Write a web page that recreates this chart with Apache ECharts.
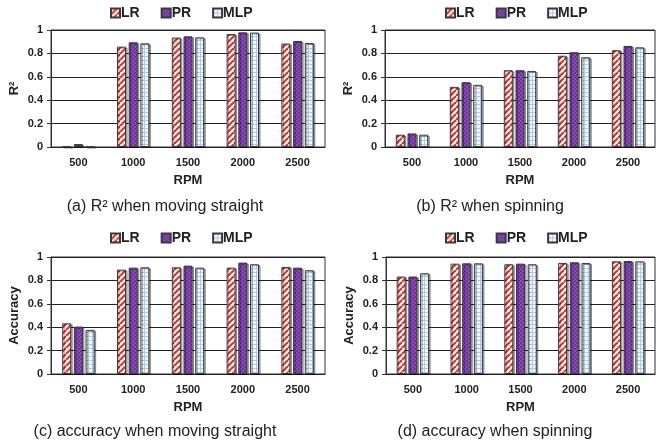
<html lang="en">
<head>
    <meta charset="UTF-8">
    <title>RPM models</title>
    <script src="https://cdn.jsdelivr.net/npm/echarts@6/dist/echarts.min.js"></script>
</head>
<body style="margin:0;background:#fff">
    <div id="main" style="width:657px;height:444px;"></div>
    <script type="text/javascript">
        // RPM categories and the three model names
        var rpm = ['500', '1000', '1500', '2000', '2500'];
        var models = ['LR', 'PR', 'MLP'];

        // (a) R^2 moving straight
        var r2StraightLR = [0.003, 0.858, 0.935, 0.966, 0.884];
        var r2StraightPR = [0.025, 0.895, 0.946, 0.98, 0.906];
        var r2StraightMLP = [0.002, 0.886, 0.937, 0.978, 0.889];
        // (b) R^2 spinning
        var r2SpinLR = [0.105, 0.514, 0.656, 0.78, 0.827];
        var r2SpinPR = [0.116, 0.554, 0.656, 0.81, 0.864];
        var r2SpinMLP = [0.105, 0.531, 0.65, 0.767, 0.852];
        // (c) accuracy moving straight
        var accStraightLR = [0.433, 0.892, 0.912, 0.909, 0.915];
        var accStraightPR = [0.405, 0.909, 0.926, 0.952, 0.909];
        var accStraightMLP = [0.377, 0.912, 0.909, 0.938, 0.887];
        // (d) accuracy spinning
        var accSpinLR = [0.833, 0.943, 0.938, 0.949, 0.963];
        var accSpinPR = [0.833, 0.946, 0.943, 0.955, 0.966];
        var accSpinMLP = [0.861, 0.946, 0.938, 0.949, 0.963];

        var yTicks = [0, 0.2, 0.4, 0.6, 0.8, 1];

        // small canvases used as repeating fills
        function makePattern(w, h, draw) {
            var c = document.createElement('canvas');
            c.width = w; c.height = h;
            draw(c.getContext('2d'));
            return { image: c, repeat: 'repeat' };
        }
        var stripeFill = makePattern(6, 6, function (g) {
            g.fillStyle = '#fff'; g.fillRect(0, 0, 6, 6);
            g.strokeStyle = '#e5332a'; g.lineWidth = 2.2;
            for (var k = -6; k <= 6; k += 6) {
                g.beginPath(); g.moveTo(k, 6); g.lineTo(k + 6, 0); g.stroke();
            }
        });
        var dotFill = makePattern(4, 4, function (g) {
            g.fillStyle = '#7030a0'; g.fillRect(0, 0, 4, 4);
            g.fillStyle = '#c9a6ec';
            g.fillRect(0.5, 0.5, 1, 1); g.fillRect(2.5, 2.5, 1, 1);
        });
        var gridFill = makePattern(4, 4, function (g) {
            g.fillStyle = '#f3f8fe'; g.fillRect(0, 0, 4, 4);
            g.fillStyle = '#a9c9ef';
            g.fillRect(0, 0, 4, 1); g.fillRect(0, 0, 1, 4);
        });
        var fills = [stripeFill, dotFill, gridFill];

        var panels = [
            { left: 51, right: 332, top: 30, yName: 'R\u00b2', caption: '(a) R\u00b2 when moving straight', cx: 165, cy: 207, lx: 105, ly: 1, data: [r2StraightLR, r2StraightPR, r2StraightMLP] },
            { left: 385, right: 2, top: 30, yName: 'R\u00b2', caption: '(b) R\u00b2 when spinning', cx: 490, cy: 207, lx: 440, ly: 1, data: [r2SpinLR, r2SpinPR, r2SpinMLP] },
            { left: 51, right: 332, top: 257, yName: 'Accuracy', caption: '(c) accuracy when moving straight', cx: 155, cy: 432, lx: 105, ly: 226, data: [accStraightLR, accStraightPR, accStraightMLP] },
            { left: 386, right: 2, top: 257, yName: 'Accuracy', caption: '(d) accuracy when spinning', cx: 495, cy: 432, lx: 440, ly: 226, data: [accSpinLR, accSpinPR, accSpinMLP] }
        ];

        var font = 'Liberation Sans, Arial, sans-serif';
        var option = {
            backgroundColor: '#fff',
            animation: false,
            grid: [], xAxis: [], yAxis: [], legend: [], series: [], graphic: []
        };

        panels.forEach(function (p, i) {
            option.grid.push({
                left: p.left, right: p.right, top: p.top, height: 117,
                show: true, borderColor: '#333', borderWidth: 1
            });
            option.xAxis.push({
                type: 'category', gridIndex: i, data: rpm,
                name: 'RPM', nameLocation: 'middle', nameGap: 27,
                nameTextStyle: { fontFamily: font, fontWeight: 'bold', fontSize: 13, color: '#222' },
                axisLine: { lineStyle: { color: '#222', width: 1 } },
                axisTick: { show: false },
                axisLabel: { fontFamily: font, fontWeight: 'bold', fontSize: 11, color: '#222', margin: 10 }
            });
            option.yAxis.push({
                type: 'value', gridIndex: i, min: 0, max: 1, interval: 0.2,
                name: p.yName, nameLocation: 'middle', nameGap: 30,
                nameTextStyle: { fontFamily: font, fontWeight: 'bold', fontSize: 13, color: '#222' },
                axisLine: { show: true, lineStyle: { color: '#333' } },
                axisTick: { show: true, length: 4, lineStyle: { color: '#333' } },
                splitLine: { lineStyle: { color: '#222', width: 1 } },
                axisLabel: {
                    fontFamily: font, fontWeight: 'bold', fontSize: 11, color: '#222', margin: 8,
                    formatter: function (v) { return yTicks.indexOf(v) >= 0 ? String(v) : ''; }
                }
            });
            option.legend.push({
                left: p.lx, top: p.ly, itemWidth: 9, itemHeight: 9, itemGap: 21,
                icon: 'rect',
                textStyle: { fontFamily: font, fontWeight: 'bold', fontSize: 14, color: '#222', padding: [0, 0, 0, -4] },
                data: models
            });
            models.forEach(function (m, k) {
                option.series.push({
                    name: m, type: 'bar', xAxisIndex: i, yAxisIndex: i,
                    data: p.data[k], barWidth: 9, barGap: '30%',
                    itemStyle: {
                        color: fills[k], borderColor: '#3a3a3a', borderWidth: 1,
                        shadowColor: 'rgba(0,0,0,0.35)', shadowOffsetX: 1.5, shadowOffsetY: 1
                    }
                });
            });
            option.graphic.push({
                type: 'text', x: p.cx, y: p.cy,
                style: {
                    text: p.caption, fill: '#222', font: '16px ' + font,
                    textAlign: 'center', textVerticalAlign: 'middle'
                }
            });
        });

        var chart = echarts.init(document.getElementById('main'));
        chart.setOption(option);
    </script>
</body>
</html>
